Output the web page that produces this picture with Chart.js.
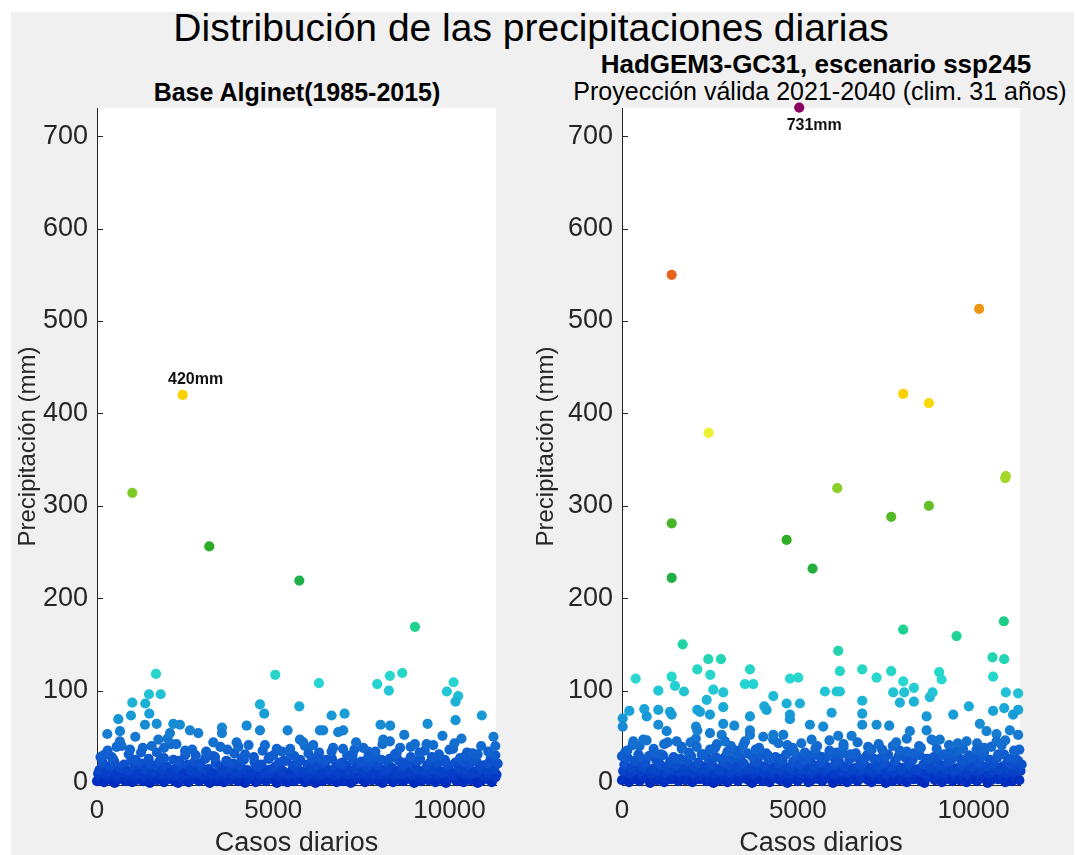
<!DOCTYPE html>
<html>
<head>
<meta charset="utf-8">
<title>Distribución de las precipitaciones diarias</title>
<script src="https://cdn.jsdelivr.net/npm/chart.js@4.4.1/dist/chart.umd.min.js"></script>
<style>
  html, body { margin: 0; padding: 0; background: #ffffff; width: 1077px; height: 855px; overflow: hidden; }
  #fig { position: absolute; left: 11px; top: 12px; width: 1063px; height: 843px; background: #f0f0f0; }
  .txt { position: absolute; font-family: "Liberation Sans", Arial, sans-serif; white-space: nowrap; line-height: 1; transform: translateX(-50%); color: #000; }
  canvas { position: absolute; top: 0; }
</style>
</head>
<body>
<div id="fig"></div>
<div class="txt" style="left:531px; top:8px; font-size:39px;">Distribución de las precipitaciones diarias</div>
<div class="txt" style="left:816px; top:51px; font-size:26px; font-weight:bold;">HadGEM3-GC31, escenario ssp245</div>
<div class="txt" style="left:297px; top:80px; font-size:25px; font-weight:bold;">Base Alginet(1985-2015)</div>
<div class="txt" style="left:820px; top:79px; font-size:25px;">Proyección válida 2021-2040 (clim. 31 años)</div>

<canvas id="leftChart" width="540" height="870" style="left:0px;"></canvas>
<canvas id="rightChart" width="547" height="870" style="left:530px;"></canvas>

<script>
'use strict';

// axis ticks
const yTicks = [0, 100, 200, 300, 400, 500, 600, 700];
const xTicks = [0, 5000, 10000];
const xMax = 11320;

// dense band near zero: rows of values, one value every bandStep days
const bandStep = 100;

const leftLow = [
  2,5,1,6,3,0,4,7,2,5,1,3,6,2,4,0,5,3,7,
  1,4,6,2,0,5,3,1,6,4,2,7,3,0,5,2,6,1,4,
  3,7,2,5,0,4,6,1,3,5,2,7,4,0,6,3,1,5,2,
  6,4,1,3,7,0,5,2,6,3,4,1,7,2,5,0,3,6,4,
  1,5,3,7,2,0,4,6,1,5,3,2,7,4,0,6,2,5,3,
  4,1,6,3,0,5,7,2,4,1,6,3,5,0,2,7,4,1,6
];
const leftBand = [
  10,13,9,12,14,8,11,13,10,12,9,14,11,8,13,10,12,14,9,
  12,10,14,8,11,13,9,12,10,14,11,8,13,12,9,10,14,11,13,
  9,12,11,14,10,8,13,12,9,11,14,10,13,8,12,11,9,14,10,
  13,11,8,12,10,14,9,13,11,12,8,10,14,12,9,13,11,10,14,
  8,12,13,10,9,14,11,12,8,13,10,11,14,9,12,13,10,8,11,
  14,9,12,10,13,11,8,14,12,10,9,13,11,12,14,8,10,13,9
];
const leftMid = [
  14,22,11,18,25,9,16,20,13,24,17,10,21,15,26,12,19,23,14,
  18,11,25,16,21,9,20,14,23,12,17,26,15,10,22,18,13,24,16,
  21,12,19,25,14,10,23,17,20,11,26,15,18,22,13,24,9,19,16,
  25,12,20,15,23,18,10,21,14,26,17,11,22,19,13,24,16,20,12,
  17,23,10,19,25,14,21,16,12,24,18,22,11,20,15,26,13,19,23,
  15,21,12,25,18,10,22,16,24,14,20,11,23,17,19,13,26,15,21
];
// every second bandStep
const leftUpper = [
  28,35,22,40,31,25,38,20,33,27,42,24,30,36,21,34,29,39,23,
  32,26,41,20,35,28,37,24,31,22,40,27,33,25,38,21,30,36,23,
  34,29,42,26,32,20,39,24,35,28,31,22,37,27,33,25,40,21,30
];

const rightLow = [
  3,6,1,8,4,2,7,5,0,6,3,8,1,5,4,7,2,6,3,
  5,1,7,4,8,2,6,0,5,3,7,1,4,8,2,6,5,3,0,
  7,4,2,6,1,8,5,3,7,0,4,6,2,5,8,1,3,7,4,
  2,6,5,0,8,3,7,1,4,6,2,5,8,3,1,7,4,6,0,
  5,2,8,3,6,1,7,4,5,2,0,6,8,3,7,1,4,5,2,
  6,3,7,1,8,4,2,5,6,0,3,7,4,8,1,5,2,6,3
];
const rightBand = [
  13,16,11,18,14,12,17,15,10,16,13,18,11,15,14,17,12,16,13,
  15,11,17,14,18,12,16,10,15,13,17,11,14,18,12,16,15,13,10,
  17,14,12,16,11,18,15,13,17,10,14,16,12,15,18,11,13,17,14,
  12,16,15,10,18,13,17,11,14,16,12,15,18,13,11,17,14,16,10,
  15,12,18,13,16,11,17,14,15,12,10,16,18,13,17,11,14,15,12,
  16,13,17,11,18,14,12,15,16,10,13,17,14,18,11,15,12,16,13
];
const rightMid = [
  20,27,16,24,31,18,22,29,15,25,21,30,17,23,28,19,26,14,24,
  29,18,22,31,16,26,20,28,15,23,30,19,25,17,27,21,32,16,24,
  22,30,18,26,15,28,21,24,31,17,23,29,20,25,14,27,19,30,22,
  26,17,29,21,24,32,18,25,15,28,20,23,30,16,26,19,27,22,31,
  18,24,29,16,27,21,25,14,30,20,26,17,28,23,19,31,22,25,15,
  28,20,24,30,17,26,22,29,18,25,21,27,16,31,23,19,28,24,20
];
const rightUpper = [
  34,41,28,46,37,31,44,26,39,33,48,30,36,42,27,40,35,45,29,
  38,32,47,26,41,34,43,30,37,28,46,33,39,31,44,27,36,42,29,
  40,35,48,32,38,26,45,30,41,34,37,28,43,33,39,31,46,27,36
];

// scattered days above the band (case number, mm)
const leftCase = [
  420,1250,1900,2250,2500,2800,3100,3350,3700,4200,4450,5000,5250,5600,6000,6300,7250,7700,
  7900,8450,8900,9150,9700,10000,10450,10800,11100,11300,3300,2000,650,1550,7350,8600,
  292,652,1086,3545,3545,4623,5408,6324,6418,6843,6985,8716,9801,11248,10340,2637,2873,2070,
  1739,5757,5851,9020,10655,3961,4008,4765,7553,6135,180,556,936,8120,8310,9350,9540,10140,
  5480,6655,6980,
  1475,1806,1002,1370,1484,964,605,4623,4745,5740,6655,7024,10918,9378,10172,8045,8318,4245,
  1361,1693,2165,2354,
  1673,5057,6296,7950,8310,8660,8280,10116,9925,10247,10172,
  9020,5740,3185,1002,2430
];
const leftPrec = [
  28,33,38,42,35,30,33,28,36,31,28,30,34,29,32,27,30,29,
  34,31,28,33,30,36,29,31,34,40,44,48,45,40,44,38,
  53,56,50,60,54,57,57,57,57,55,57,52,51,50,48,57,54,54,
  47,47,44,42,32,44,39,41,38,41,30,39,36,47,45,42,41,43,
  37,34,37,
  96,96,87,86,75,73,69,85,75,83,73,75,73,64,68,63,62,62,
  63,64,64,63,
  118,117,108,107,116,119,100,109,99,94,88,
  169,219,256,314,420
];

const rightCase = [
  150,500,900,1200,1700,1950,2300,2650,3000,3450,3800,4150,4450,4850,5200,5550,5900,6300,
  6650,7000,7400,7800,8100,8450,8950,9300,9550,10300,10800,11150,
  1033,2104,2141,2880,3193,5345,5723,6833,7240,7600,10178,1270,2502,2834,3640,3640,6150,6530,
  8188,8663,10368,10652,11031,11267,4018,4303,4587,606,322,1555,2124,2929,3262,5393,8805,9040,
  9800,10084,10652,0,9658,
  2408,6833,7903,8302,4682,5060,4046,4113,2880,9865,208,634,1033,1365,1413,2141,2218,5962,
  6833,10555,10870,11267,11124,20,20,702,2502,3640,4776,4776,8663,9421,
  2142,3640,6197,6833,7657,2511,390,1413,4776,5012,7240,7998,9021,9090,10555,3497,3734,1507,
  1763,1033,2596,2880,4303,5771,6103,6197,7714,8026,8302,8756,8833,10917,11267,
  10860,7998,9516,1725,6150,2454,2815,10538,10870,
  1413,5420,4682,1413,7657,8728,6122,10900,10917,2464,8728,7998,10158,1413,5040
];
const rightPrec = [
  35,40,33,42,37,44,31,38,34,41,36,30,43,38,33,40,35,42,
  32,39,36,44,34,40,37,32,43,38,41,35,
  63,61,57,64,62,63,61,63,63,62,64,56,54,52,57,52,51,51,
  56,57,56,53,57,52,50,52,52,47,45,45,39,45,32,47,47,47,
  45,36,45,29,25,
  90,89,87,88,86,86,83,79,82,83,78,80,79,77,74,79,77,76,
  75,78,81,79,74,70,61,72,74,72,74,69,72,74,
  123,123,121,123,121,117,113,115,113,114,114,110,120,112,115,107,107,105,
  99,100,101,98,94,99,99,99,98,98,103,93,98,98,97,
  175,166,159,150,143,134,134,136,134,
  222,232,263,281,288,300,319,330,332,379,411,421,513,550,731
];

// colour map: precipitation (mm) -> rgb
const colorStops = [
  [0, [0, 42, 190]], [20, [12, 80, 205]], [50, [22, 120, 208]], [80, [25, 165, 215]],
  [110, [40, 215, 210]], [170, [30, 210, 140]], [220, [30, 175, 70]], [260, [45, 170, 40]],
  [300, [100, 190, 40]], [330, [160, 215, 40]], [380, [240, 240, 50]], [420, [250, 210, 0]],
  [515, [235, 150, 20]], [550, [230, 100, 30]], [731, [140, 0, 100]]
];

function colorFor(v) {
  if (v <= colorStops[0][0]) return 'rgb(' + colorStops[0][1].join(',') + ')';
  for (let i = 1; i < colorStops.length; i++) {
    if (v <= colorStops[i][0]) {
      let a = colorStops[i - 1], b = colorStops[i];
      let t = (v - a[0]) / (b[0] - a[0]);
      let c = a[1].map((ch, k) => Math.round(ch + (b[1][k] - ch) * t));
      return 'rgb(' + c.join(',') + ')';
    }
  }
  return 'rgb(' + colorStops[colorStops.length - 1][1].join(',') + ')';
}

function addRow(pts, row, step, start) {
  row.forEach((v, i) => pts.push({ x: start + i * step, y: v }));
}

function buildPoints(low, band, mid, upper, cases, prec) {
  let pts = [];
  addRow(pts, low, bandStep, 0);
  addRow(pts, band, bandStep, 33);
  addRow(pts, mid, bandStep, 67);
  addRow(pts, upper, bandStep * 2, 100);
  cases.forEach((c, i) => pts.push({ x: c, y: prec[i] }));
  return pts;
}

const font = '"Liberation Sans", Arial, sans-serif';
const ink = '#262626';

const panelDeco = {
  id: 'panelDeco',
  beforeDraw(chart) {
    let a = chart.chartArea, c = chart.ctx;
    c.save();
    c.fillStyle = '#ffffff';
    c.fillRect(a.left, a.top, a.right - a.left, a.bottom - a.top);
    c.restore();
  },
  beforeDatasetsDraw(chart) {
    let a = chart.chartArea, c = chart.ctx;
    let xs = chart.scales.x, ys = chart.scales.y;
    c.save();
    c.strokeStyle = ink;
    c.lineWidth = 1;
    ys.ticks.forEach(t => {
      let py = Math.round(ys.getPixelForValue(t.value)) + 0.5;
      c.beginPath(); c.moveTo(a.left, py); c.lineTo(a.left + 6, py); c.stroke();
    });
    xs.ticks.forEach(t => {
      let px = Math.round(xs.getPixelForValue(t.value)) + 0.5;
      c.beginPath(); c.moveTo(px, a.bottom); c.lineTo(px, a.bottom - 6); c.stroke();
    });
    c.restore();
  },
  afterDatasetsDraw(chart, args, opts) {
    // label the wettest day
    let pts = chart.data.datasets[0].data;
    let top = pts[0];
    pts.forEach(p => { if (p.y > top.y) top = p; });
    let px = chart.scales.x.getPixelForValue(top.x);
    let py = chart.scales.y.getPixelForValue(top.y);
    let c = chart.ctx;
    c.save();
    c.font = 'bold 16px ' + font;
    c.fillStyle = '#111111';
    c.textAlign = 'center';
    c.textBaseline = 'middle';
    c.fillText(Math.round(top.y) + 'mm', px + opts.dx, py + opts.dy);
    c.restore();
  }
};

function makePanel(id, points, yWidth, rightPad, titlePad, labelOffset) {
  return new Chart(document.getElementById(id), {
    type: 'scatter',
    data: {
      datasets: [{
        data: points,
        pointRadius: 5.1,
        pointHoverRadius: 5.1,
        borderWidth: 0,
        pointBorderWidth: 0,
        backgroundColor: ctx => colorFor(ctx.raw ? ctx.raw.y : 0),
        clip: false
      }]
    },
    options: {
      responsive: false,
      animation: false,
      events: [],
      layout: { padding: { top: 108, right: rightPad, bottom: 0, left: 0 } },
      plugins: {
        legend: { display: false },
        tooltip: { enabled: false },
        panelDeco: labelOffset
      },
      scales: {
        x: {
          type: 'linear',
          min: 0,
          max: xMax,
          afterBuildTicks: s => { s.ticks = xTicks.map(v => ({ value: v })); },
          afterFit: s => { s.height = 85; },
          grid: { drawOnChartArea: false, drawTicks: false },
          border: { display: true, color: ink, width: 1 },
          ticks: { color: ink, font: { family: font, size: 26 }, padding: 10, maxRotation: 0, callback: v => String(v) },
          title: { display: true, text: 'Casos diarios', color: ink, font: { family: font, size: 27, lineHeight: 1.2 }, padding: { top: 0, bottom: 10 } }
        },
        y: {
          type: 'linear',
          min: -2.2,
          max: 730.5,
          afterBuildTicks: s => { s.ticks = yTicks.map(v => ({ value: v })); },
          afterFit: s => { s.width = yWidth; },
          grid: { drawOnChartArea: false, drawTicks: false },
          border: { display: true, color: ink, width: 1 },
          ticks: { color: ink, font: { family: font, size: 27 }, padding: 9, callback: v => String(v) },
          title: { display: true, text: 'Precipitación (mm)', color: ink, font: { family: font, size: 24, lineHeight: 1.2 }, padding: { top: titlePad, bottom: 0 } }
        }
      }
    },
    plugins: [panelDeco]
  });
}

makePanel('leftChart', buildPoints(leftLow, leftBand, leftMid, leftUpper, leftCase, leftPrec), 97, 44, 14, { dx: 13, dy: -15 });
makePanel('rightChart', buildPoints(rightLow, rightBand, rightMid, rightUpper, rightCase, rightPrec), 92, 57, 2, { dx: 15, dy: 18 });
</script>
</body>
</html>
